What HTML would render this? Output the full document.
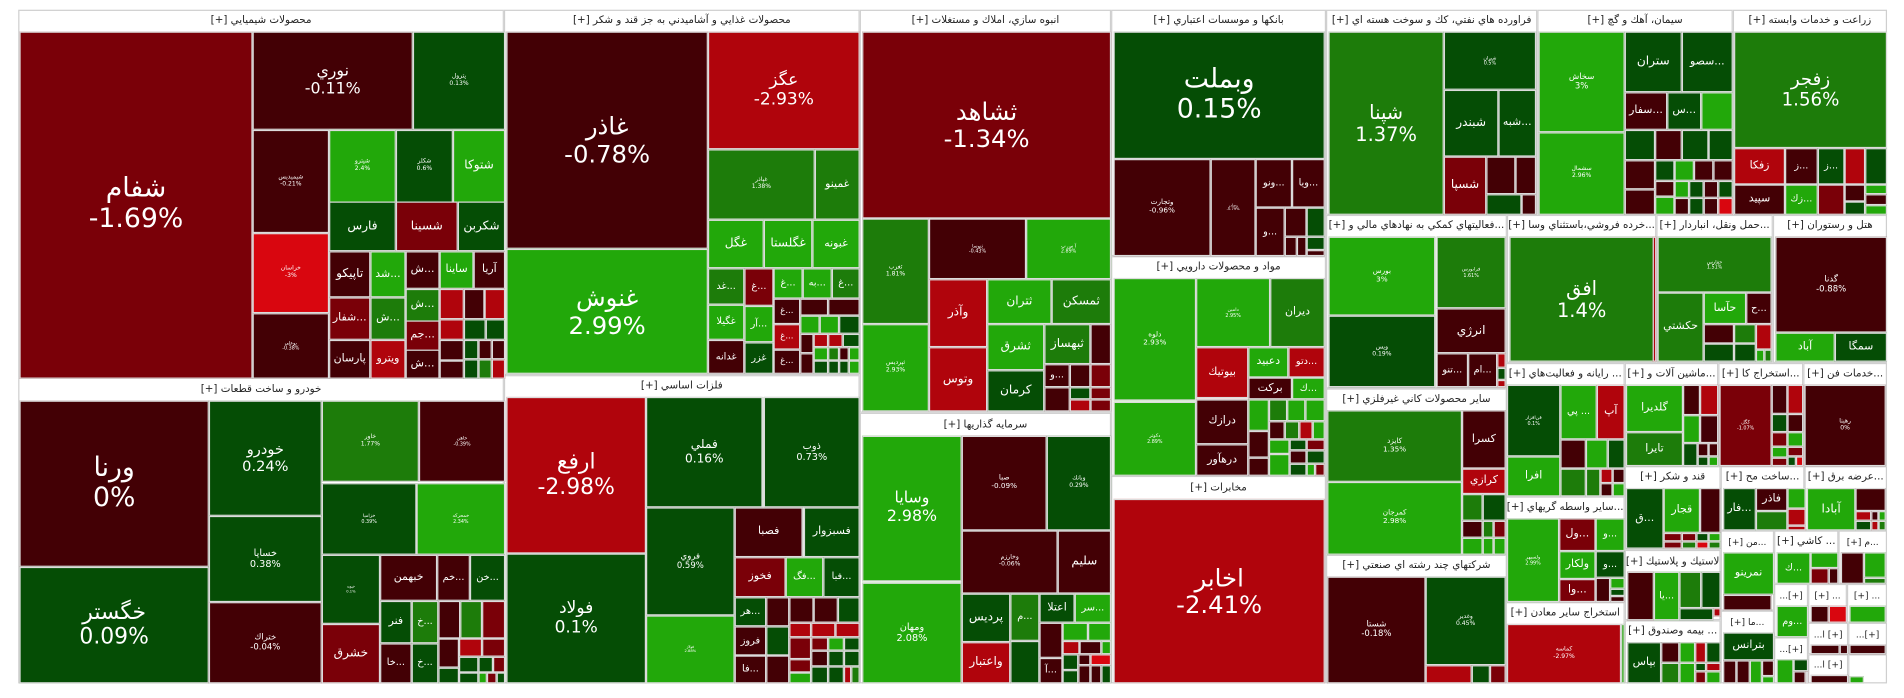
<!DOCTYPE html>
<html>
<head>
<meta charset="utf-8">
<style>
  html,body{margin:0;padding:0;background:#fff;width:1904px;height:698px;overflow:hidden;}
  #stage{position:absolute;left:0;top:0;width:1568px;height:575px;transform-origin:0 0;transform:scale(1.2143,1.2139);font-family:"DejaVu Sans","Liberation Sans",sans-serif;}
  .sec{position:absolute;background:#fff;border:1px solid #cfcfcf;box-sizing:border-box;}
  .hdr{position:absolute;left:0;right:0;top:0;text-align:center;color:#222;font-size:8.5px;white-space:nowrap;overflow:hidden;direction:rtl;}
  .cell{position:absolute;box-sizing:border-box;border:0.8px solid #dcdcdc;color:#fff;display:flex;flex-direction:column;align-items:center;justify-content:center;text-align:center;overflow:hidden;line-height:1.12;white-space:nowrap;}
  .cell span{display:block;}
</style>
</head>
<body>
<div id="stage"></div>
<script>
// Sector frames: [x1, y1, x2, y2, title, contentTop]
const sectors = [
 [15,8,415,311,'محصولات شيميايي [+]',25],
 [415,8,708,309,'محصولات غذايي و آشاميدني به جز قند و شكر [+]',25],
 [708,8,915,340,'انبوه سازي، املاك و مستغلات [+]',25],
 [708,340,915,563,'سرمايه گذاريها [+]',358],
 [915,8,1092,211,'بانكها و موسسات اعتباري [+]',25],
 [915,211,1092,392,'مواد و محصولات دارويي [+]',228],
 [915,392,1092,563,'مخابرات [+]',410],
 [1092,8,1266,177,'فراورده هاي نفتي، كك و سوخت هسته اي [+]',25],
 [1266,8,1427,177,'سيمان، آهك و گچ [+]',25],
 [1427,8,1554,177,'زراعت و خدمات وابسته [+]',25],
 [1092,177,1241,320,'...فعاليتهاي كمكي به نهادهاي مالي و [+]',194],
 [1092,320,1241,457,'ساير محصولات كاني غيرفلزي [+]',337],
 [1092,457,1241,563,'شركتهاي چند رشته اي صنعتي [+]',474],
 [1241,177,1364,299,'...خرده فروشي،باستثناي وسا [+]',194],
 [1364,177,1460,299,'...حمل ونقل، انباردار [+]',194],
 [1460,177,1554,299,'هتل و رستوران [+]',194],
 [1240,299,1338,409,'... رايانه و فعاليت‌هاي [+]',316],
 [1338,299,1415,384,'...ماشين آلات و [+]',316],
 [1415,299,1485,384,'...استخراج كا [+]',316],
 [1485,299,1554,384,'...خدمات فن [+]',316],
 [1240,409,1338,496,'...ساير واسطه گريهاي [+]',426],
 [1240,496,1338,563,'استخراج ساير معادن [+]',513],
 [1338,384,1417,453,'قند و شكر [+]',401],
 [1417,384,1486,437,'...ساخت مح [+]',401],
 [1486,384,1554,437,'...عرضه برق [+]',401],
 [1338,453,1417,511,'لاستيك و پلاستيك [+]',471],
 [1338,511,1417,563,'... بيمه وصندوق [+]',528],
 [1417,437,1461,503,'...من [+]',454],
 [1461,437,1514,481,'... كاشي [+]',454],
 [1514,437,1554,481,'...م [+]',454],
 [1417,503,1461,563,'...ما [+]',520],
 [1461,481,1489,525,'[+]...',498],
 [1489,481,1521,513,'... [+]',498],
 [1521,481,1554,513,'... [+]',498],
 [1461,525,1489,563,'[+]...',542],
 [1489,513,1522,539,'[+] ا...',530],
 [1522,513,1554,539,'[+]...',530],
 [1489,539,1522,563,'[+] ا...',555],
 [1522,539,1554,563,'',556],
 [15,311,415,563,'خودرو و ساخت قطعات [+]',329],
 [415,309,708,563,'فلزات اساسي [+]',326]
];

// Tiles: [x1, y1, x2, y2, ticker, percentChange, fontSize, showPercent]
const cells = [
 [16,26,207,311,'شفام',-1.69,22,1],[208,26,339,106,'نوري',-0.11,13,1],[340,26,415,106,'پترول',0.13,5,1],
 [208,107,270,191,'شيميديس',-0.21,5,1],[208,192,270,257,'خراسان',-3,5,1],[208,258,270,311,'بوعلي',-0.38,4,1],
 [271,107,325,166,'شپترو',2.4,5,1],[326,107,372,166,'شكلر',0.6,5,1],[373,107,415,166,'شتوكا',2.5,10,0],
 [271,166,325,206,'فارس',0.5,10,0],[326,166,376,206,'شسينا',-1.5,10,0],[377,166,415,206,'شكربن',0.4,10,0],
 [271,207,304,244,'تاپيكو',-0.5,10,0],[305,207,333,244,'...شد',2.5,9,0],[334,207,361,237,'...ش',-0.5,9,0],
 [362,207,389,237,'ساينا',2.5,9,0],[390,207,415,237,'آريا',-0.5,9,0],[271,245,304,279,'...شفار',-1.5,9,0],
 [305,245,333,279,'...ش',1.5,9,0],[271,280,304,311,'پارسان',-0.5,9,0],[305,280,333,311,'ويترو',-2.5,9,0],
 [334,238,361,264,'...ش',1.5,9,0],[334,264,361,288,'...جم',-1.5,9,0],[334,288,361,311,'...ش',-0.5,9,0],
 [362,238,381,262,'',-2.5],[382,238,398,262,'',-0.5],[399,238,415,262,'',-2.5],[362,263,381,279,'',-2.5],[382,263,399,279,'',0.3],[400,263,415,279,'',0.3],[362,280,381,296,'',-0.5],[362,297,381,311,'',-0.5],[382,280,393,295,'',0.3],[394,280,404,295,'',-0.5],[405,280,415,295,'',-0.5],[382,296,393,311,'',0.3],[394,296,404,311,'',1.5],[405,296,415,311,'',-2.5],

 [417,26,582,204,'غاذر',-0.78,20,1],[417,205,582,307,'غنوش',2.99,20,1],[583,26,707,122,'عگز',-2.93,14,1],
 [583,123,670,180,'غپاذر',1.38,5,1],[671,123,707,180,'غمينو',1.5,9,0],[583,181,628,220,'غگل',2.5,10,0],
 [629,181,668,220,'غگلستا',2.5,10,0],[669,181,707,220,'غبونه',2.5,9,0],[583,221,612,250,'...غد',1.5,8,0],
 [613,221,636,251,'...غ',-1.5,8,0],[637,221,660,245,'...غ',2.5,8,0],[661,221,684,245,'...به',2.5,8,0],
 [685,221,707,245,'...غ',1.5,8,0],[583,251,612,279,'غگيلا',2.5,8,0],[613,252,636,281,'...آر',2.5,8,0],
 [613,282,636,307,'غزر',0.3,8,0],[583,280,612,307,'غدانه',-0.5,8,0],[637,246,658,266,'...غ',-0.5,7,0],
 [637,267,658,287,'...غ',-2.5,7,0],[637,288,658,307,'...غ',-0.5,7,0],
 [659,246,681,259,'',-0.5],[682,246,707,259,'',-0.5],[659,260,674,274,'',2.5],[675,260,690,274,'',2.5],[691,260,707,274,'',0.3],[659,275,669,290,'',-0.5],[670,275,681,285,'',-2.5],[682,275,693,285,'',-2.5],[694,275,707,285,'',0.3],[659,291,669,307,'',-0.5],[670,286,681,296,'',2.5],[670,297,681,307,'',0.3],[682,286,690,296,'',1.5],[691,286,698,296,'',-0.5],[699,286,707,296,'',2.5],[682,297,690,307,'',0.3],[691,297,698,307,'',0.3],[699,297,707,307,'',2.5],

 [710,26,914,179,'ثشاهد',-1.34,20,1],[710,180,764,266,'ثغرب',1.81,5,1],[710,267,764,338,'ثپرديس',2.93,5,1],
 [765,180,844,229,'ثنوسا',-0.43,4,1],[845,180,914,229,'آ س پ',2.89,4,1],[765,230,812,285,'وآذر',-2.5,10,0],
 [765,286,812,338,'وتوس',-2.5,10,0],[813,230,865,266,'ثتران',2.5,10,0],[866,230,914,266,'ثمسكن',1.5,10,0],
 [813,267,859,304,'ثشرق',2.5,10,0],[860,267,897,299,'ثبهساز',1.5,10,0],[898,267,914,299,'',-0.5],
 [813,305,859,338,'كرمان',0.3,10,0],[860,300,880,318,'...و',-0.5,8,0],
 [881,300,897,318,'',-0.5],[898,300,914,318,'',-1.5],[860,319,880,338,'',-0.5],[881,319,897,328,'',0.3],[898,319,914,328,'',-1.5],[881,329,897,338,'',-2.5],[898,329,914,338,'',-1.5],

 [710,359,791,478,'وسايا',2.98,13,1],[710,480,791,562,'ومهان',2.08,8,1],[792,359,861,436,'صبا',-0.09,6,1],
 [862,359,914,436,'وبانك',0.29,5,1],[792,437,870,488,'وخارزم',-0.06,5,1],[871,437,914,488,'سليم',-0.5,10,0],
 [792,489,831,528,'پرديس',0.3,10,0],[832,489,855,527,'...م',1.5,8,0],[856,489,884,512,'اعتلا',0.3,9,0],
 [885,489,914,512,'...سر',2.5,8,0],[792,529,831,562,'واعتبار',-2.5,10,0],[832,528,855,562,'',0.3],
 [856,513,874,541,'',-0.5],[856,542,874,562,'...آ',-0.5,8,0],
 [875,513,895,527,'',2.5],[896,513,914,527,'',2.5],[875,528,888,538,'',-2.5],[889,528,906,538,'',-0.5],[907,528,914,538,'',2.5],[875,539,887,551,'',0.3],[888,539,897,547,'',-0.5],[898,539,914,547,'',-3],[875,552,887,562,'',0.3],[888,548,897,562,'',-0.5],[898,548,906,562,'',-0.5],[907,548,914,562,'',0.3],

 [917,26,1090,130,'وبملت',0.15,22,1],[917,131,996,210,'وتجارت',-0.96,6,1],[997,131,1033,210,'وصادر',-0.79,3,1],
 [1034,131,1063,170,'...ونو',-0.5,8,0],[1064,131,1090,170,'...ويا',-0.5,8,0],[1034,171,1057,210,'...و',-0.5,8,0],
 [1058,171,1075,194,'',-0.5],[1076,171,1090,194,'',0.3],[1058,195,1067,210,'',-0.5],[1068,195,1075,210,'',-0.5],[1076,195,1090,205,'',0.3],[1076,206,1090,210,'',-0.5],

 [917,229,984,329,'دلوه',2.93,6,1],[917,331,984,391,'دكوثر',2.89,4,1],[985,229,1045,285,'دامين',2.95,4,1],
 [1046,229,1090,285,'ديران',1.5,9,0],[985,286,1027,327,'بيوتيك',-2.5,9,0],[1028,286,1060,310,'دعبيد',2.5,9,0],
 [1061,286,1090,310,'...دتو',-2.5,8,0],[1028,311,1063,328,'بركت',-0.5,9,0],[1064,311,1090,328,'...ك',2.5,8,0],
 [985,329,1027,365,'درازك',-0.5,9,0],[985,366,1027,391,'درهآور',-0.5,9,0],
 [1028,329,1044,354,'',2.5],[1045,329,1059,346,'',1.5],[1060,329,1074,346,'',2.5],[1075,329,1090,346,'',2.5],[1028,355,1044,376,'',-0.5],[1028,377,1044,391,'',-0.5],[1045,347,1057,361,'',-0.5],[1058,347,1069,361,'',1.5],[1070,347,1080,361,'',-2.5],[1081,347,1090,361,'',2.5],[1045,362,1061,373,'',2.5],[1062,362,1075,370,'',0.3],[1076,362,1090,370,'',-1.5],[1045,374,1061,391,'',2.5],[1062,371,1075,381,'',-0.5],[1076,371,1090,381,'',0.3],[1062,382,1075,391,'',0.3],[1076,382,1082,391,'',2.5],[1083,382,1090,391,'',-1.5],

 [917,411,1090,562,'اخابر',-2.41,20,1],

 [1094,26,1188,176,'شپنا',1.37,16,1],[1189,26,1264,73,'شيران',0.5,4,1],[1189,74,1233,128,'شبندر',0.3,10,0],
 [1234,74,1264,128,'...شبه',0.3,9,0],[1189,129,1223,176,'شسپا',-1.5,10,0],
 [1224,129,1247,159,'',-0.5],[1248,129,1264,159,'',-0.5],[1224,160,1252,176,'',0.3],[1253,160,1264,176,'',-0.5],

 [1267,26,1337,108,'سخاش',3,7,1],[1267,109,1337,176,'سشمال',2.96,5,1],[1338,26,1384,75,'ستران',0.3,10,0],
 [1385,26,1426,75,'...سصو',0.3,9,0],[1338,76,1372,106,'...سفار',-0.5,9,0],[1373,76,1400,106,'...س',0.3,9,0],
 [1401,76,1426,106,'',2.5],
 [1338,107,1362,131,'',0.3],[1363,107,1384,131,'',-0.5],[1385,107,1406,131,'',0.3],[1407,107,1426,131,'',0.3],
 [1338,132,1362,155,'',-0.5],[1363,132,1378,148,'',0.3],[1379,132,1394,148,'',2.5],[1395,132,1410,148,'',-0.5],[1411,132,1426,148,'',-0.5],
 [1338,156,1362,176,'',-0.5],[1363,149,1378,161,'',-0.5],[1363,162,1378,176,'',2.5],[1379,149,1390,162,'',2.5],[1391,149,1402,162,'',0.3],[1403,149,1414,162,'',-0.5],[1415,149,1426,162,'',0.3],[1379,163,1390,176,'',-0.5],[1391,163,1402,176,'',0.3],[1403,163,1414,176,'',-0.5],[1415,163,1426,176,'',-3],

 [1428,26,1553,121,'زفجر',1.56,15,1],[1428,122,1469,151,'زفكا',-2.5,9,0],[1470,122,1496,151,'...ز',-0.5,8,0],
 [1497,122,1518,151,'...ز',0.3,8,0],[1519,122,1535,151,'',-2.5],[1536,122,1553,151,'',0.3],
 [1428,152,1469,176,'سپيد',-0.5,9,0],[1470,152,1496,176,'...زك',2.5,8,0],[1497,152,1518,176,'',-1.5],
 [1519,152,1535,165,'',-0.5],[1536,152,1553,159,'',2.5],[1536,160,1553,168,'',-0.5],[1519,166,1535,176,'',0.3],[1536,169,1553,176,'',2.5],

 [1094,195,1181,259,'بورس',3,6,1],[1183,195,1239,253,'فرابورس',1.61,4,1],[1094,260,1181,318,'ويس',0.19,5,1],
 [1183,254,1239,290,'انرژي',-0.5,10,0],[1183,291,1208,318,'...تنو',-0.5,8,0],[1209,291,1232,318,'...ام',-0.5,8,0],
 [1233,291,1239,302,'',-2.5],[1233,303,1239,312,'',0.3],[1233,313,1239,318,'',-2.5],

 [1093,338,1203,396,'كايزد',1.35,6,1],[1093,397,1203,456,'كمرجان',2.98,6,1],[1204,338,1239,385,'كسرا',-0.5,9,0],
 [1204,386,1239,406,'كرازي',-2.5,9,0],
 [1204,407,1220,428,'',1.5],[1221,407,1239,428,'',0.3],[1204,429,1220,442,'',-0.5],[1221,429,1229,442,'',1.5],[1230,429,1239,442,'',-1.5],[1204,443,1220,456,'',2.5],[1221,443,1229,456,'',2.5],[1230,443,1239,456,'',2.5],

 [1093,475,1173,562,'شستا',-0.18,7,1],[1174,475,1239,547,'وغدير',0.45,5,1],
 [1174,548,1211,562,'',-2.5],[1212,548,1226,562,'',0.3],[1227,548,1239,562,'',-1.5],

 [1243,195,1361,297,'افق',1.4,16,1],[1361,195,1363,297,'',-2.5],

 [1365,195,1458,240,'حفارس',1.51,4,1],[1365,241,1402,297,'حكشتي',1.5,9,0],[1403,241,1437,266,'حآسا',2.5,9,0],
 [1438,241,1458,266,'...ح',-0.5,8,0],
 [1403,267,1427,282,'',-0.5],[1428,267,1445,282,'',1.5],[1446,267,1458,287,'',-2.5],[1403,283,1427,297,'',0.3],[1428,283,1445,297,'',0.3],[1446,288,1452,297,'',2.5],[1453,288,1458,297,'',1.5],

 [1462,195,1553,273,'گدنا',-0.88,7,1],[1462,274,1510,297,'آباد',2.5,9,0],[1511,274,1553,297,'سمگا',0.3,9,0],

 [1241,317,1284,375,'فن‌افزار',0.1,4,1],[1285,317,1314,361,'... پي',2.5,8,0],[1315,317,1337,361,'آپ',-2.5,9,0],
 [1241,376,1284,408,'افرا',2.5,9,0],
 [1285,362,1305,385,'',-0.5],[1306,362,1323,385,'',2.5],[1324,362,1337,385,'',0.3],[1285,386,1305,408,'',1.5],[1306,386,1317,408,'',1.5],[1318,386,1327,397,'',-2.5],[1328,386,1337,397,'',-0.5],[1318,398,1327,408,'',-0.5],[1328,398,1337,408,'',2.5],

 [1339,317,1385,355,'گلديرا',2.5,9,0],[1339,356,1385,383,'تايرا',1.5,9,0],
 [1386,317,1399,341,'',-0.5],[1400,317,1414,341,'',-2.5],[1386,342,1399,364,'',2.5],[1400,342,1414,364,'',-0.5],[1386,365,1397,383,'',0.3],[1398,365,1406,375,'',-0.5],[1407,365,1414,375,'',-0.5],[1398,376,1406,383,'',0.3],[1407,376,1414,383,'',2.5],

 [1416,317,1458,383,'كگل',-1.07,4,1],
 [1459,317,1471,340,'',-0.5],[1472,317,1484,340,'',-2.5],[1459,341,1471,355,'',0.3],[1472,341,1484,355,'',-0.5],[1459,356,1471,367,'',-1.5],[1472,356,1484,367,'',2.5],[1459,368,1471,376,'',2.5],[1472,368,1484,375,'',-1.5],[1459,377,1471,383,'',-1.5],[1472,376,1478,383,'',0.3],[1479,376,1484,383,'',-3],

 [1486,317,1552,383,'رهينا',0,5,1],

 [1241,427,1283,495,'ولسپهر',2.99,4,1],[1284,427,1313,453,'...ول',-1.5,9,0],[1314,427,1337,453,'...و',2.5,8,0],
 [1284,454,1313,476,'ولكار',2.5,9,0],[1314,454,1337,475,'...و',0.3,8,0],[1284,477,1313,495,'...وا',-1.5,9,0],
 [1314,476,1325,495,'',-0.5],[1326,476,1337,484,'',2.5],[1326,485,1337,490,'',0.3],[1326,491,1337,495,'',-0.5],

 [1241,514,1334,562,'كماسه',-2.97,5,1],[1335,514,1337,562,'',2.5],

 [1339,402,1369,451,'...ق',0.3,9,0],[1370,402,1399,438,'قجار',2.5,9,0],[1400,402,1416,438,'',-0.5],
 [1370,439,1384,445,'',-1.5],[1385,439,1396,445,'',-1.5],[1397,439,1406,445,'',0.3],[1407,439,1416,445,'',2.5],[1370,446,1384,451,'',-1.5],[1385,446,1396,451,'',1.5],[1397,446,1406,451,'',-3],[1407,446,1416,451,'',1.5],

 [1419,402,1445,436,'...فار',0.3,9,0],[1446,402,1471,420,'فاذر',-0.5,9,0],[1472,402,1486,418,'',2.5],
 [1446,421,1471,436,'',1.5],[1472,419,1486,432,'',-2.5],[1472,433,1486,436,'',-2.5],

 [1488,402,1527,436,'آبادا',2.5,10,0],[1528,402,1552,420,'',-0.5],
 [1528,421,1540,428,'',-2.5],[1541,421,1546,428,'',-0.5],[1547,421,1552,428,'',2.5],[1528,429,1540,436,'',0.3],[1541,429,1546,436,'',-2.5],[1547,429,1552,436,'',1.5],

 [1340,471,1361,510,'',-0.5],[1362,471,1382,510,'...يا',2.5,8,0],[1383,471,1400,500,'',1.5],[1401,471,1416,500,'',0.3],[1383,501,1410,510,'',0.3],[1411,501,1416,507,'',-2.5],

 [1340,529,1367,562,'بپاس',0.3,9,0],
 [1368,529,1382,545,'',-0.5],[1383,529,1395,545,'',2.5],[1396,529,1404,545,'',-2.5],[1405,529,1416,545,'',0.3],[1368,546,1382,562,'',1.5],[1383,546,1395,562,'',2.5],[1396,546,1404,552,'',0.3],[1405,546,1416,552,'',-2.5],[1396,553,1404,562,'',-1.5],[1405,553,1416,562,'',2.5],

 [1419,455,1460,489,'نمرينو',2.5,9,0],[1419,490,1458,502,'',-0.5],
 [1463,455,1490,480,'...ك',2.5,8,0],[1491,455,1513,467,'',2.5],[1491,468,1505,480,'',-1.5],[1506,468,1513,480,'',-0.5],
 [1516,455,1534,480,'',-0.5],[1535,455,1552,475,'',2.5],[1535,476,1552,480,'',1.5],
 [1419,521,1460,543,'بترانس',0.3,9,0],
 [1419,544,1429,562,'',-0.5],[1430,544,1440,562,'',-0.5],[1441,544,1450,562,'',2.5],[1451,544,1460,556,'',-0.5],[1451,557,1460,562,'',2.5],
 [1463,499,1488,524,'...وم',2.5,8,0],
 [1491,499,1505,512,'',-0.5],[1506,499,1520,512,'',-3],
 [1523,499,1552,512,'',2.5],
 [1463,543,1476,562,'',2.5],[1477,543,1488,552,'',0.3],[1477,553,1486,562,'',-0.5],[1487,553,1488,562,'',-1.5],
 [1491,531,1514,538,'',-0.5],[1515,531,1521,538,'',-0.5],
 [1523,531,1552,538,'',-0.5],
 [1491,556,1521,562,'',-0.5],
 [1523,557,1534,562,'',2.5],

 [16,330,171,466,'ورنا',0,22,1],[16,467,171,562,'خگستر',0.09,18,1],[172,330,264,424,'خودرو',0.24,12,1],
 [172,425,264,495,'خساپا',0.38,8,1],[172,496,264,562,'ختراك',-0.04,7,1],[265,330,344,396,'خاور',1.77,5,1],
 [345,330,415,396,'خاهن',-0.39,4,1],[265,398,342,456,'خزاميا',0.39,4,1],[343,398,415,456,'خمحركه',2.34,4,1],
 [265,457,312,513,'خپويه',0.1,3,1],[265,514,312,562,'خشرق',-1.5,10,0],[313,457,359,494,'خبهمن',-0.5,9,0],
 [360,457,386,494,'...خم',-0.5,8,0],[387,457,415,494,'...خن',0.3,8,0],[313,495,338,529,'فنر',0.3,9,0],
 [339,495,360,529,'...خ',1.5,8,0],
 [361,495,378,525,'',-0.5],[379,495,396,525,'',1.5],[397,495,415,525,'',-1.5],
 [313,530,338,562,'...خا',-0.5,8,0],[339,530,360,562,'...خ',0.3,8,0],
 [361,526,377,549,'',-0.5],[378,526,396,540,'',-2.5],[397,526,415,540,'',-1.5],[378,541,393,553,'',0.3],[394,541,405,553,'',0.3],[406,541,415,553,'',-1.5],[361,550,377,562,'',0.3],[378,554,393,562,'',0.3],[394,554,400,562,'',2.5],[401,554,408,562,'',-1.5],[409,554,415,562,'',0.3],

 [417,327,531,455,'ارفع',-2.98,18,1],[417,456,531,562,'فولاد',0.1,14,1],[532,327,627,417,'فملي',0.16,10,1],
 [629,327,707,417,'ذوب',0.73,8,1],[532,418,604,506,'فروي',0.59,7,1],[532,507,604,562,'فولاژ',2.88,3,1],
 [605,418,660,458,'فصبا',-0.5,9,0],[662,418,707,458,'فسبزوار',0.3,9,0],[605,459,646,491,'فخوز',-1.5,9,0],
 [647,459,677,491,'...فگ',2.5,8,0],[678,459,707,491,'...فبا',0.3,8,0],[605,492,630,515,'...هر',0.3,8,0],
 [605,516,630,539,'فروز',-0.5,8,0],[605,540,630,562,'...فا',-0.5,8,0],
 [631,492,649,515,'',-0.5],[650,492,669,512,'',-0.5],[670,492,689,512,'',-0.5],[690,492,707,512,'',0.3],[631,516,649,539,'',0.3],[631,540,649,562,'',-0.5],[650,513,667,524,'',-2.5],[668,513,687,524,'',-2.5],[688,513,707,524,'',-2.5],[650,525,667,542,'',-1.5],[668,525,681,535,'',-1.5],[682,525,694,535,'',2.5],[695,525,707,535,'',0.3],[650,543,667,553,'',-1.5],[650,554,667,562,'',2.5],[668,536,681,548,'',-0.5],[682,536,694,548,'',0.3],[695,536,707,548,'',0.3],[668,549,681,562,'',0.3],[682,549,694,562,'',0.3],[695,549,700,562,'',-2.5],[701,549,707,562,'',1.5]
];

function colorFor(c){
  if (c >= 2) return '#22a80a';
  if (c >= 1) return '#1d7c0a';
  if (c > 0) return '#054d05';
  if (c > -1) return '#430005';
  if (c > -2) return '#7a0008';
  if (c > -2.995) return '#b0040c';
  return '#d9060f';
}
function fmt(c){ return (Math.round(c*100)/100) + '%'; }

const stage = document.getElementById('stage');
sectors.forEach(function(s){
  const d = document.createElement('div');
  d.className = 'sec';
  
  
  d.style.left = s[0]+'px'; d.style.top = s[1]+'px';
  d.style.width = (s[2]-s[0])+'px'; d.style.height = (s[3]-s[1])+'px';
  if (s[4]) {
    const h = document.createElement('div');
    h.className = 'hdr';
    
    
    const hh = s[5]-s[1];
    h.style.height = hh+'px';
    h.style.lineHeight = hh+'px';
    if ((s[2]-s[0]) < 45) h.style.fontSize = '7.5px';
    h.textContent = s[4];
    d.appendChild(h);
  }
  stage.appendChild(d);
});
cells.forEach(function(c){
  const d = document.createElement('div');
  d.className = 'cell';
  
  
  d.style.left = c[0]+'px'; d.style.top = c[1]+'px';
  d.style.width = (c[2]-c[0]+1)+'px'; d.style.height = (c[3]-c[1]+1)+'px';
  d.style.background = colorFor(c[5]);
  if (c[4]) {
    d.style.fontSize = (c[6]||8)+'px';
    const n = document.createElement('span');
    
    
    n.style.direction = 'rtl';
    n.textContent = c[4];
    d.appendChild(n);
    if (c[7]) {
      const p = document.createElement('span');
      
      
      p.textContent = fmt(c[5]);
      d.appendChild(p);
    }
  }
  stage.appendChild(d);
});
</script>
</body>
</html>
